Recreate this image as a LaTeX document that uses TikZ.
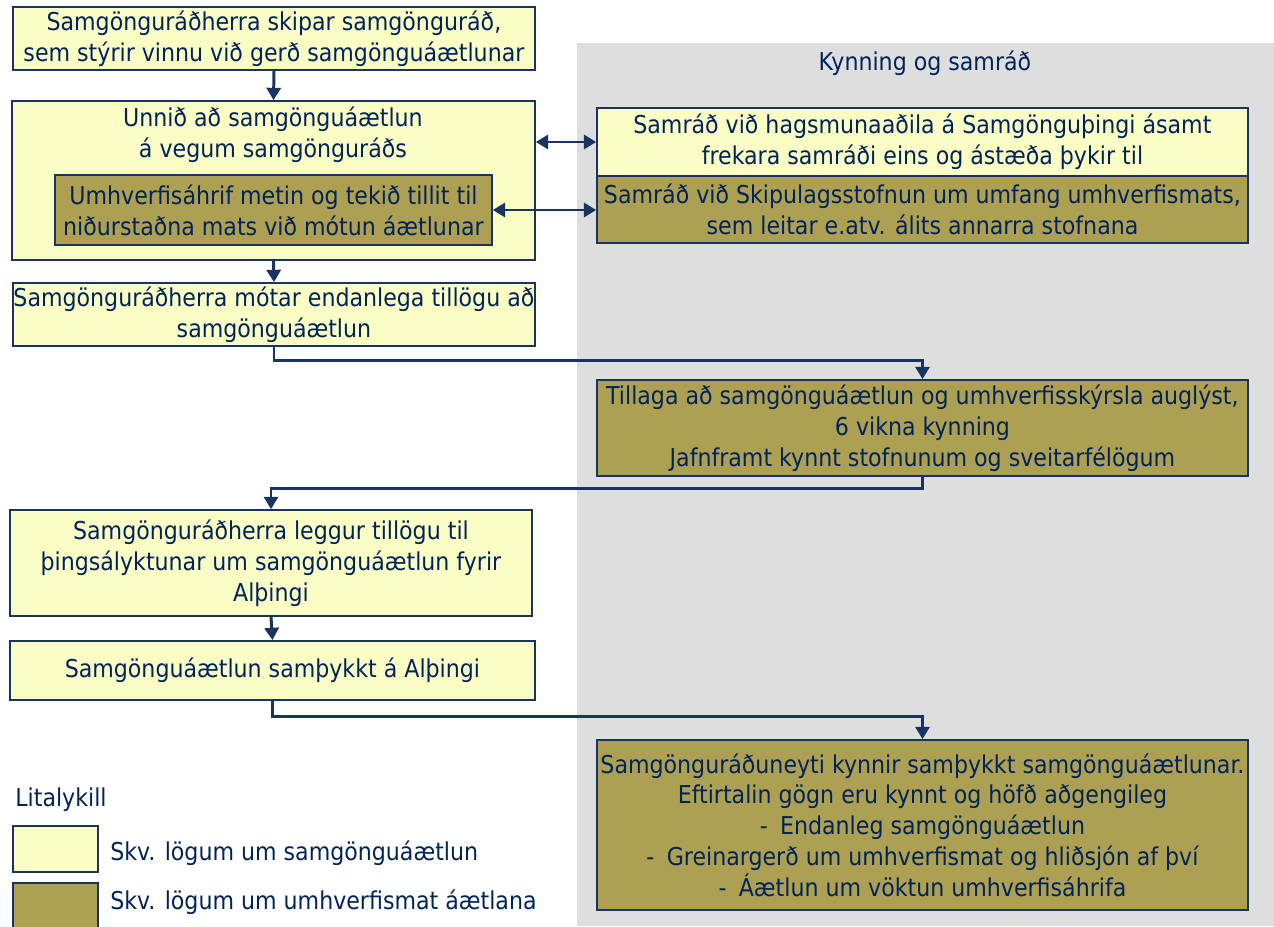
\documentclass[tikz,border=0pt]{standalone}
\usepackage{fontspec}
\setmainfont{DejaVu Sans Condensed}
\usepackage{tikz}
\usepackage{xcolor}
\usetikzlibrary{arrows.meta,positioning}
\definecolor{navy}{RGB}{0,36,90}
\definecolor{edge}{RGB}{25,52,98}
\definecolor{pale}{RGB}{250,253,196}
\definecolor{olive}{RGB}{174,160,82}
\definecolor{panel}{RGB}{222,222,222}
\tikzstyle{arrow} = [
    line width=1.7pt,
    -{Triangle[length=7pt,width=8pt]},
    draw=edge
]
\tikzstyle{twoway} = [
    line width=1.7pt,
    {Triangle[length=7pt,width=8pt]}-{Triangle[length=7pt,width=8pt]},
    draw=edge
]
\tikzstyle{lawbox} = [
    rectangle,
    draw=edge,
    line width=1pt,
    fill=pale,
    text=navy,
    align=center,
    inner sep=0pt,
    font=\fontsize{14}{17.5}\selectfont
]
\tikzstyle{envbox} = [
    lawbox,
    fill=olive
]
\tikzstyle{caption} = [
    text=navy,
    inner sep=0pt,
    font=\fontsize{14}{17.5}\selectfont
]

\begin{document}
\begin{tikzpicture}[x=0.02cm,y=-0.02cm]
    \useasboundingbox (0,0) rectangle (1274,926);
    \fill[white] (0,0) rectangle (1274,926);
    % consultation panel
    \fill[panel] (577,43) rectangle (1274,926);
    \node[caption] (kynning) at (925,63) {Kynning og samráð};

    % main column
    \node[lawbox, minimum width=10.44cm, minimum height=1.26cm] (skipar) at (274,38.5)
        {Samgönguráðherra skipar samgönguráð,\\sem stýrir vinnu við gerð samgönguáætlunar};
    \node[lawbox, minimum width=10.46cm, minimum height=3.18cm] (unnid) at (273.5,180.5) {};
    \node[caption, align=center] (unnidtxt) at (273,135)
        {Unnið að samgönguáætlun\\á vegum samgönguráðs};
    \node[envbox, minimum width=8.74cm, minimum height=1.4cm] (metin) at (273.5,210)
        {Umhverfisáhrif metin og tekið tillit til\\niðurstaðna mats við mótun áætlunar};
    \node[lawbox, minimum width=10.44cm, minimum height=1.26cm] (motar) at (274,314.5)
        {Samgönguráðherra mótar endanlega tillögu að\\samgönguáætlun};
    \node[lawbox, minimum width=10.44cm, minimum height=2.12cm] (leggur) at (271,563)
        {Samgönguráðherra leggur tillögu til\\þingsályktunar um samgönguáætlun fyrir\\Alþingi};
    \node[lawbox, minimum width=10.5cm, minimum height=1.18cm] (samthykkt) at (272.5,670.5)
        {Samgönguáætlun samþykkt á Alþingi};

    % right column
    \node[lawbox, minimum width=13.02cm, minimum height=1.36cm] (hagsmuna) at (922.5,142)
        {Samráð við hagsmunaaðila á Samgönguþingi ásamt\\frekara samráði eins og ástæða þykir til};
    \node[envbox, minimum width=13.02cm, minimum height=1.34cm] (skipulag) at (922.5,209.5)
        {Samráð við Skipulagsstofnun um umfang umhverfismats,\\sem leitar e.atv. álits annarra stofnana};
    \node[envbox, minimum width=13.02cm, minimum height=1.92cm] (tillaga) at (922.5,428)
        {Tillaga að samgönguáætlun og umhverfisskýrsla auglýst,\\6 vikna kynning\\Jafnframt kynnt stofnunum og sveitarfélögum};
    \node[envbox, minimum width=13.02cm, minimum height=3.4cm] (kynnir) at (922.5,825)
        {Samgönguráðuneyti kynnir samþykkt samgönguáætlunar.\\Eftirtalin gögn eru kynnt og höfð aðgengileg\\-\enspace Endanleg samgönguáætlun\\-\enspace Greinargerð um umhverfismat og hliðsjón af því\\-\enspace Áætlun um vöktun umhverfisáhrifa};

    % connectors
    \draw[arrow] (skipar.south) -- (unnid.north);
    \draw[arrow] (unnid.south) -- (motar.north);
    \draw[arrow] (leggur.south) -- (samthykkt.north);
    \draw[twoway] (unnid.east |- hagsmuna.west) -- (hagsmuna.west);
    \draw[twoway] (metin.east) -- (metin.east -| skipulag.west);
    \draw[arrow] (motar.south) -- ++(0,14) -| (tillaga.north);
    \draw[arrow] (tillaga.south) -- ++(0,12) -| (leggur.north);
    \draw[arrow] (samthykkt.south) -- ++(0,16) -| (kynnir.north);

    % legend
    \node[caption, anchor=west] (litalykill) at (15,800) {Litalykill};
    \node[lawbox, minimum width=1.7cm, minimum height=0.92cm] (keypale) at (55.5,849) {};
    \node[envbox, minimum width=1.7cm, minimum height=0.92cm] (keyolive) at (55.5,906) {};
    \node[caption, anchor=west] at (110,853) {Skv. lögum um samgönguáætlun};
    \node[caption, anchor=west] at (110,902) {Skv. lögum um umhverfismat áætlana};
\end{tikzpicture}
\end{document}
